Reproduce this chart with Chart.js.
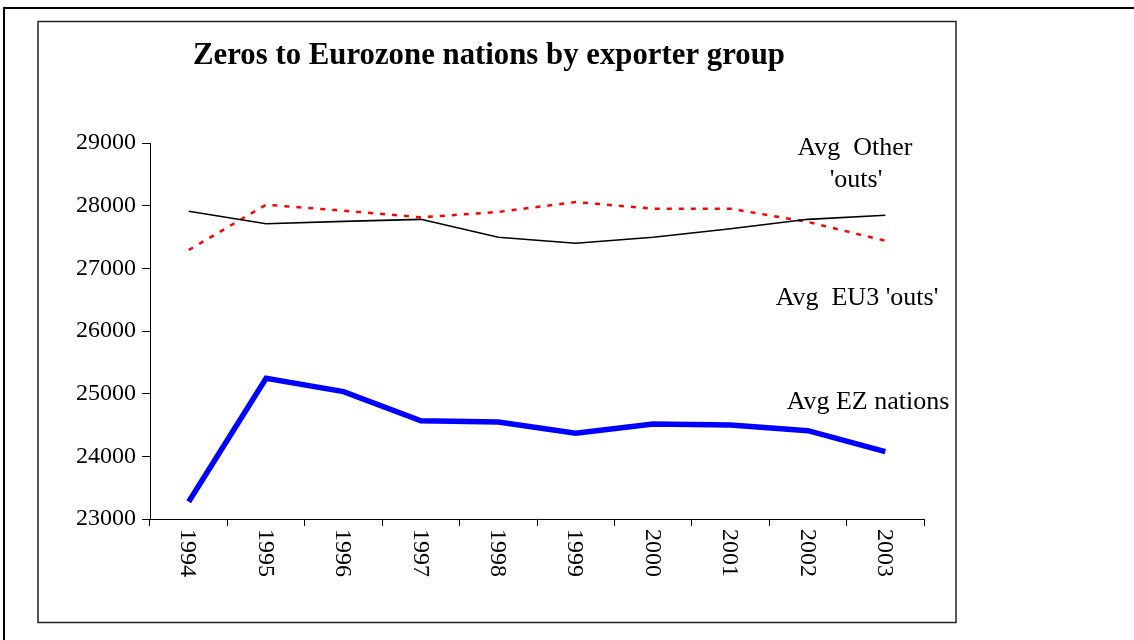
<!DOCTYPE html>
<html>
<head>
<meta charset="utf-8">
<script src="https://cdn.jsdelivr.net/npm/chart.js@4"></script>
<style>
  html, body { margin: 0; padding: 0; background: #fff; }
  #wrap { width: 1134px; height: 640px; position: relative; }
</style>
</head>
<body>
<div id="wrap"><canvas id="myChart" width="1134" height="640"></canvas></div>
<script>
var years = ['1994', '1995', '1996', '1997', '1998', '1999', '2000', '2001', '2002', '2003'];
var otherOuts = [27910, 27712, 27750, 27782, 27495, 27400, 27495, 27632, 27782, 27846];
var eu3Outs = [27292, 28015, 27920, 27814, 27900, 28058, 27952, 27952, 27740, 27440];
var ezNations = [23276, 25245, 25032, 24568, 24548, 24367, 24516, 24500, 24409, 24074];
var yTicks = [23000, 24000, 25000, 26000, 27000, 28000, 29000];

var serif = '"Liberation Serif", "Times New Roman", serif';

// frames, title, rotated year labels, line notes
var extras = {
  id: 'extras',
  beforeDraw: function(chart) {
    var c = chart.ctx;
    c.save();
    c.fillStyle = '#fff';
    c.fillRect(0, 0, chart.width, chart.height);
    c.strokeStyle = '#000';
    c.lineWidth = 2;
    c.beginPath();
    c.moveTo(4, 640);
    c.lineTo(4, 8);
    c.lineTo(1134, 8);
    c.stroke();
    c.lineWidth = 1.5;
    c.strokeStyle = '#222';
    c.strokeRect(38, 21.5, 918, 601);
    c.restore();
  },
  afterDraw: function(chart) {
    var c = chart.ctx;
    var x = chart.scales.x;
    c.save();
    c.fillStyle = '#000';
    // title: tall condensed bold serif, squeezed to the reference width
    var title = 'Zeros to Eurozone nations by exporter group';
    c.font = 'bold 31px ' + serif;
    c.textAlign = 'center';
    c.textBaseline = 'middle';
    var w = c.measureText(title).width;
    c.save();
    c.translate(489, 56);
    c.scale(592 / w, 1);
    c.fillText(title, 0, 0);
    c.restore();

    c.font = '24px ' + serif;
    c.textAlign = 'left';
    years.forEach(function(y, i) {
      c.save();
      c.translate(x.getPixelForValue(i) - 1, 529);
      c.rotate(Math.PI / 2);
      c.fillText(y, 0, 0);
      c.restore();
    });

    c.font = '26px ' + serif;
    c.textAlign = 'center';
    c.fillText('Avg  Other', 855, 148);
    c.fillText("'outs'", 856, 180);
    c.fillText("Avg  EU3 'outs'", 857, 298);
    c.fillText('Avg EZ nations', 868, 402);
    c.restore();
  }
};

var ctx = document.getElementById('myChart').getContext('2d');
var myChart = new Chart(ctx, {
  type: 'line',
  data: {
    labels: years,
    datasets: [{
      label: "Avg Other 'outs'",
      data: otherOuts,
      borderColor: '#000',
      borderWidth: 1.6,
      pointRadius: 0,
      tension: 0
    }, {
      label: "Avg EU3 'outs'",
      data: eu3Outs,
      borderColor: '#ff0000',
      borderWidth: 2.5,
      borderDash: [5, 7],
      pointRadius: 0,
      tension: 0
    }, {
      label: 'Avg EZ nations',
      data: ezNations,
      borderColor: '#0000ff',
      borderWidth: 5.5,
      pointRadius: 0,
      tension: 0
    }]
  },
  options: {
    responsive: false,
    animation: false,
    layout: { padding: { top: 143, right: 210, bottom: 0, left: 0 } },
    plugins: { legend: { display: false }, tooltip: { enabled: false } },
    scales: {
      x: {
        offset: true,
        grid: { offset: true, drawOnChartArea: false, drawTicks: true, tickLength: 7, color: '#000' },
        border: { color: '#000', width: 1 },
        ticks: { display: false },
        afterFit: function(s) { s.height = 121; }
      },
      y: {
        min: 23000,
        max: 29000,
        afterBuildTicks: function(s) { s.ticks = yTicks.map(function(v) { return { value: v }; }); },
        grid: { drawOnChartArea: false, drawTicks: true, tickLength: 8, color: '#000' },
        border: { color: '#000', width: 1 },
        ticks: {
          color: '#000', font: { family: serif, size: 24 }, padding: 6,
          callback: function(v) { return String(v); }
        },
        afterFit: function(s) { s.width = 150; }
      }
    }
  },
  plugins: [extras]
});
</script>
</body>
</html>
